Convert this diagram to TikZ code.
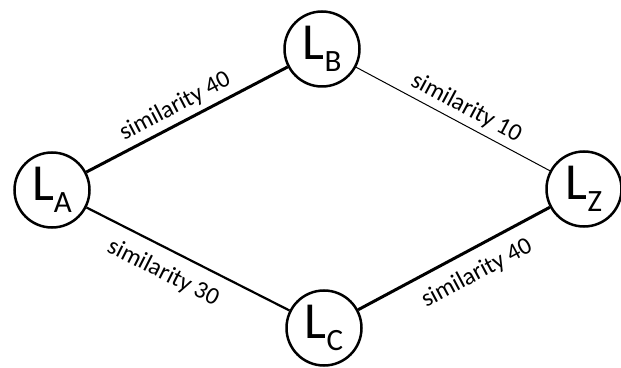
\documentclass[tikz,border=0pt]{standalone}
\usepackage{fontspec}
\setmainfont{Carlito}
\tikzset{
  lnode/.style={circle, draw=black, line width=2.5pt, minimum size=75pt, inner sep=0pt},
  simlabel/.style={sloped, inner sep=0pt, font=\fontsize{24.5}{24.5}\selectfont},
  thickedge/.style={line width=3pt},
  midedge/.style={line width=2.2pt},
  thinedge/.style={line width=1pt}
}
\newcommand{\lbl}[1]{\raisebox{4pt}{{\fontsize{52}{52}\selectfont L}\raisebox{-12pt}{\fontsize{31}{31}\selectfont #1}}}
\begin{document}
\begin{tikzpicture}[x=1pt,y=1pt]
\useasboundingbox (0,0) rectangle (621,367);
\node[lnode] (A) at (52,177) {\lbl{A}};
\node[lnode] (B) at (322,318) {\lbl{B}};
\node[lnode] (C) at (324,39) {\lbl{C}};
\node[lnode] (Z) at (584,178) {\lbl{Z}};
\draw[thickedge] (A) -- node[simlabel, pos=0.48, above=5pt] {similarity 40} (B);
\draw[thinedge] (B) -- node[simlabel, pos=0.53, above=5pt] {similarity 10} (Z);
\draw[midedge] (A) -- node[simlabel, pos=0.43, below=12pt] {similarity 30} (C);
\draw[thickedge] (C) -- node[simlabel, pos=0.56, below=12pt] {similarity 40} (Z);
\end{tikzpicture}
\end{document}
